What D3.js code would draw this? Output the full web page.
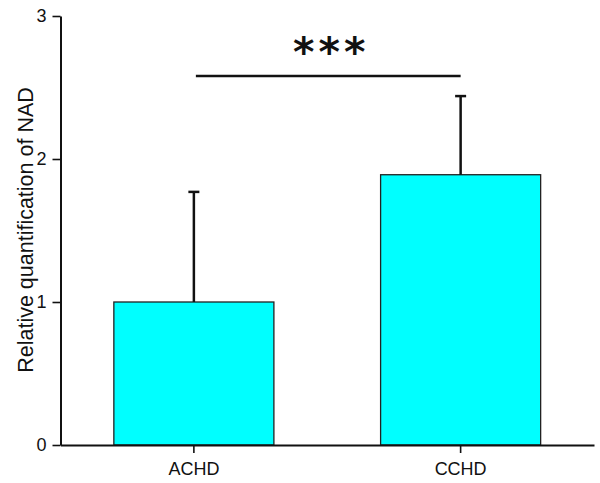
<!DOCTYPE html>
<html>
<head>
<meta charset="utf-8">
<script src="https://cdn.jsdelivr.net/npm/d3@7"></script>
<style>
  html, body { margin: 0; padding: 0; background: #fff; }
  svg { display: block; font-family: "Liberation Sans", Arial, sans-serif; }
</style>
</head>
<body>
<svg id="chart" width="600" height="483"></svg>
<script>
const categories = ["ACHD", "CCHD"];
const means = [1.0, 1.89];
const errors = [0.77, 0.55];
const yTicks = [0, 1, 2, 3];
const yLabel = "Relative quantification of NAD";
const sigLabel = "***";

const svg = d3.select("#chart");

const y = d3.scaleLinear().domain([0, 3]).range([445, 16]);
const x = d3.scaleBand().domain(categories).range([60.5, 594]).paddingInner(0.4).paddingOuter(0.2);

// bars
svg.selectAll("rect.bar").data(categories).enter().append("rect")
  .attr("class", "bar")
  .attr("x", d => x(d))
  .attr("y", (d, i) => y(means[i]))
  .attr("width", x.bandwidth())
  .attr("height", (d, i) => y(0) - y(means[i]))
  .attr("fill", "#00ffff")
  .attr("stroke", "#222")
  .attr("stroke-width", 1.3);

// error bars (upper only)
categories.forEach((c, i) => {
  const cx = x(c) + x.bandwidth() / 2;
  svg.append("line")
    .attr("x1", cx).attr("x2", cx)
    .attr("y1", y(means[i])).attr("y2", y(means[i] + errors[i]))
    .attr("stroke", "#111").attr("stroke-width", 2.5);
  svg.append("line")
    .attr("x1", cx - 5.5).attr("x2", cx + 5.5)
    .attr("y1", y(means[i] + errors[i])).attr("y2", y(means[i] + errors[i]))
    .attr("stroke", "#111").attr("stroke-width", 2.5);
});

// y axis
const yAxis = svg.append("g")
  .attr("transform", "translate(60.5,0)")
  .call(d3.axisLeft(y).tickValues(yTicks).tickFormat(d3.format("d")).tickSize(8).tickSizeOuter(0));
yAxis.select(".domain").attr("stroke", "#111").attr("stroke-width", 2);
yAxis.selectAll(".tick line").attr("stroke", "#111").attr("stroke-width", 1.6);
yAxis.selectAll(".tick text").attr("font-size", 18).attr("fill", "#111")
  .attr("font-family", "Liberation Sans, Arial, sans-serif").attr("x", -14);

// x axis
const xAxis = svg.append("g")
  .attr("transform", "translate(0,445)")
  .call(d3.axisBottom(x).tickSize(8).tickSizeOuter(0));
xAxis.select(".domain").attr("stroke", "#111").attr("stroke-width", 2);
xAxis.selectAll(".tick line").attr("stroke", "#111").attr("stroke-width", 1.6);
xAxis.selectAll(".tick text").attr("font-size", 18).attr("fill", "#111")
  .attr("font-family", "Liberation Sans, Arial, sans-serif").attr("y", 17).attr("dy", "0.71em");

// y label
svg.append("text")
  .attr("transform", "translate(33,230) rotate(-90)")
  .attr("text-anchor", "middle")
  .attr("font-size", 21.5)
  .attr("fill", "#111")
  .text(yLabel);

// significance line
const x1 = x(categories[0]) + x.bandwidth() / 2 + 2;
const x2 = x(categories[1]) + x.bandwidth() / 2;
svg.append("line")
  .attr("x1", x1).attr("x2", x2)
  .attr("y1", 76).attr("y2", 76)
  .attr("stroke", "#111").attr("stroke-width", 2.6);

svg.append("text")
  .attr("x", (x1 + x2) / 2 + 3)
  .attr("y", 66)
  .attr("text-anchor", "middle")
  .attr("font-family", "DejaVu Sans, sans-serif")
  .attr("font-size", 41)
  .attr("font-weight", "bold")
  .attr("letter-spacing", 4)
  .attr("fill", "#111")
  .text(sigLabel);
</script>
</body>
</html>
